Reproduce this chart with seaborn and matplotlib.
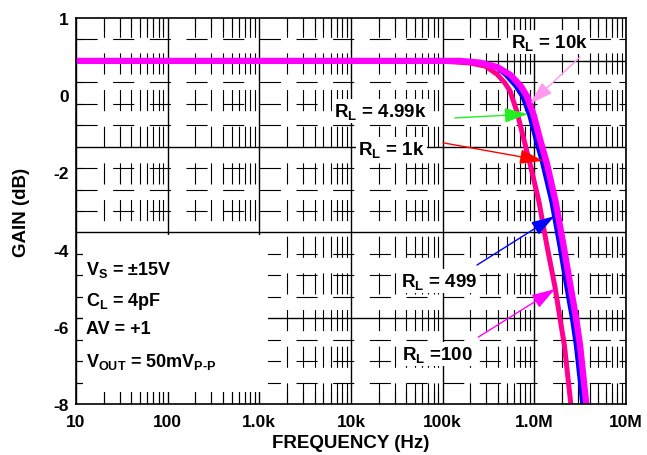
import matplotlib
matplotlib.use("Agg")
import matplotlib.pyplot as plt
import matplotlib.ticker as mticker
from matplotlib.patches import Rectangle
import numpy as np
import pandas as pd
import seaborn as sns

# ── style ──
sns.set_theme(style="white")
plt.rcParams["font.family"] = ["Liberation Sans", "DejaVu Sans"]
plt.rcParams["font.weight"] = "bold"
plt.rcParams["text.color"] = "black"
plt.rcParams["axes.labelcolor"] = "black"
plt.rcParams["xtick.color"] = "black"
plt.rcParams["ytick.color"] = "black"
plt.rcParams["mathtext.fontset"] = "custom"
plt.rcParams["mathtext.rm"] = "Liberation Sans:bold"
plt.rcParams["mathtext.bf"] = "Liberation Sans:bold"
plt.rcParams["mathtext.it"] = "Liberation Sans:bold"
plt.rcParams["mathtext.default"] = "bf"

# ── data ──
LOADS = ["100", "1k", "4.99k", "499", "10k"]  # draw order

FREQ_100 = [10, 93.5e3, 199e3, 290e3, 392e3, 479e3, 543e3, 647e3, 752e3, 897e3,
            1.125e6, 1.375e6, 1.68e6, 1.905e6, 2.13e6, 2.53e6]
GAIN_100 = [0, 0, -0.05, -0.12, -0.31, -0.52, -0.70, -1.19, -1.75, -2.40,
            -3.29, -4.32, -5.27, -6.0, -6.64, -8.1]

FREQ_499 = [10, 136e3, 255e3, 372e3, 479e3, 615e3, 733e3, 874e3, 1.017e6, 1.211e6,
            1.52e6, 1.86e6, 2.21e6, 2.54e6, 2.81e6, 3.34e6]
FREQ_1K = [10, 143e3, 255e3, 380e3, 505e3, 655e3, 775e3, 920e3, 1.07e6, 1.27e6,
           1.59e6, 1.95e6, 2.31e6, 2.66e6, 2.95e6, 3.49e6]
FREQ_4K99 = [10, 150e3, 255e3, 386e3, 528e3, 688e3, 810e3, 958e3, 1.115e6, 1.33e6,
             1.65e6, 2.02e6, 2.41e6, 2.77e6, 3.06e6, 3.62e6]
FREQ_10K = [10, 154.5e3, 255e3, 392e3, 550e3, 714e3, 841e3, 991e3, 1.153e6, 1.375e6,
            1.71e6, 2.09e6, 2.49e6, 2.86e6, 3.16e6, 3.73e6]
GAIN_HI = [0, 0, -0.04, -0.14, -0.33, -0.59, -0.84, -1.28, -1.82, -2.40,
           -3.29, -4.32, -5.27, -6.0, -6.64, -8.1]

CURVE_COLORS = {"100": "#FF0090", "1k": "#FF0000", "4.99k": "#00DD00",
                "499": "#0000FF", "10k": "#FF00FF"}
CURVE_LW = {"100": 3.6, "1k": 1.4, "4.99k": 1.4, "499": 2.3, "10k": 4.5}

XTICKS = [10, 100, 1e3, 1e4, 1e5, 1e6, 1e7]
XTICK_LABELS = ["10", "100", "1.0k", "10k", "100k", "1.0M", "10M"]
YTICK_POS = [1, -0.8, -2.6, -4.4, -6.2, -8]
YTICK_LABELS = ["1", "0", "-2", "-4", "-6", "-8"]

# arrow (tail, tip) in data coords + colour
ARROWS = {
    "10k": ((3.15e6, 0.09), (0.897e6, -1.0), "#FF99EE"),
    "4.99k": ((136e3, -1.33), (0.853e6, -1.24), "#22EE22"),
    "1k": ((101e3, -1.91), (1.25e6, -2.33), "#FF0000"),
    "499": ((237e3, -4.76), (1.66e6, -3.62), "#0000FF"),
    "100": ((245e3, -6.44), (1.68e6, -5.32), "#FF00FF"),
}
LABELS = {
    "10k": (0.860, 0.925, r"R$_{L}$ = 10k"),
    "4.99k": (0.554, 0.746, r"R$_{L}$ = 4.99k"),
    "1k": (0.574, 0.648, r"R$_{L}$ = 1k"),
    "499": (0.660, 0.306, r"R$_{L}$ = 499"),
    "100": (0.658, 0.117, r"R$_{L}$ =100"),
}
CONDITIONS = [r"V$_{S}$ = ±15V", r"C$_{L}$ = 4pF", "AV = +1",
              r"V$_{OUT}$ = 50mV$_{P\text{-}P}$"]
COND_Y = [0.337, 0.256, 0.184, 0.098]

frames = {
    "100": (FREQ_100, GAIN_100),
    "1k": (FREQ_1K, GAIN_HI),
    "4.99k": (FREQ_4K99, GAIN_HI),
    "499": (FREQ_499, GAIN_HI),
    "10k": (FREQ_10K, GAIN_HI),
}
df = pd.concat(
    [pd.DataFrame({"load": k, "freq": f, "gain": g}) for k, (f, g) in frames.items()],
    ignore_index=True,
)

fig = plt.figure(figsize=(6.47, 4.56), dpi=100)
ax = fig.add_axes([76 / 647, 1 - 405 / 456, 550 / 647, 386 / 456])
ax.set_xscale("log")
ax.set_xlim(10, 1e7)
ax.set_ylim(-8, 1)
ax.set_axisbelow(True)

# grid: solid decades / 2 dB, broken minor lines
ax.xaxis.set_minor_locator(mticker.LogLocator(base=10, subs=np.arange(2, 10)))
ax.xaxis.set_minor_formatter(mticker.NullFormatter())
ax.set_yticks([v for v in np.arange(-7.5, 1.0, 0.5) if v % 2 != 0], minor=True)
ax.grid(True, which="major", axis="x", color="black", lw=1.0)
ax.grid(True, which="minor", axis="both", color="black", lw=0.8,
        linestyle=(0, (19, 14)))
for yv in [0, -2, -4, -6]:
    ax.axhline(yv, color="black", lw=1.0, zorder=0.6)

# white panel behind conditions
ax.add_patch(Rectangle((0.013, 0.031), 0.336, 0.407, transform=ax.transAxes,
                       facecolor="white", edgecolor="none", zorder=1))

for name in LOADS:
    sub = df[df["load"] == name]
    sns.lineplot(data=sub, x="freq", y="gain", ax=ax, color=CURVE_COLORS[name],
                 lw=CURVE_LW[name], estimator=None, sort=False, legend=False,
                 solid_capstyle="butt", zorder=2.5)

for name, (tail, tip, col) in ARROWS.items():
    ax.annotate("", xy=tip, xytext=tail,
                arrowprops=dict(arrowstyle="-|>,head_length=0.8,head_width=0.25",
                                mutation_scale=18, color=col, lw=1.0,
                                shrinkA=0, shrinkB=0), zorder=4)

for name, (x, y, txt) in LABELS.items():
    ax.text(x, y, txt, transform=ax.transAxes, ha="center", va="baseline",
            fontsize=13.5, fontweight="bold", color="black",
            bbox=dict(facecolor="white", edgecolor="none", pad=1.5), zorder=5)

for txt, y in zip(CONDITIONS, COND_Y):
    ax.text(0.018, y, txt, transform=ax.transAxes, ha="left", va="baseline",
            fontsize=13, fontweight="bold", color="black", zorder=5)

ax.set_xticks(XTICKS)
ax.set_xticklabels(XTICK_LABELS)
ax.set_yticks(YTICK_POS)
ax.set_yticklabels(YTICK_LABELS)
ax.tick_params(axis="x", which="major", length=0, pad=7, labelsize=12.5,
               labelcolor="black")
ax.tick_params(axis="x", which="minor", direction="in", length=8.5, width=0.8,
               top=True, bottom=True, color="black")
ax.tick_params(axis="y", which="major", length=0, pad=5, labelsize=12.5,
               labelcolor="black")
ax.tick_params(axis="y", which="minor", direction="in", length=5, width=0.8,
               left=True, right=True, color="black")
for lbl in ax.get_xticklabels() + ax.get_yticklabels():
    lbl.set_fontweight("bold")

for sp in ax.spines.values():
    sp.set_color("black")
    sp.set_linewidth(1.2)

ax.set_xlabel("FREQUENCY (Hz)", fontsize=13.5, fontweight="bold", labelpad=4,
              color="black")
ax.set_ylabel("GAIN (dB)", fontsize=13.5, fontweight="bold", labelpad=17,
              color="black")

fig.savefig("out.png", dpi=100)
